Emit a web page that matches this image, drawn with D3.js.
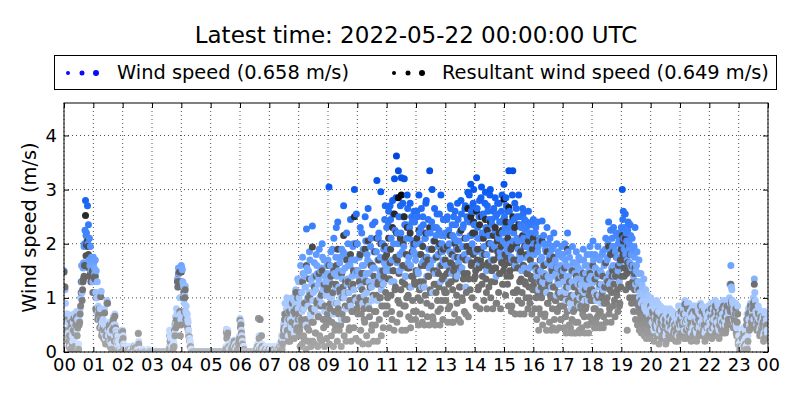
<!DOCTYPE html>
<html><head><meta charset="utf-8">
<script src="https://cdn.jsdelivr.net/npm/d3@7"></script>
<style>body{margin:0;background:#fff}svg{font-family:"DejaVu Sans",sans-serif}</style>
</head><body><svg id="c" width="800" height="400"></svg>
<script>
// ---- data: one row per hour (00..23); values on even minutes and on odd minutes ----
const windSpeedEven = [
 [1.5,1.15,0.7,0.65,0.55,0.3,0.68,0.62,0.4,0.2,0.7,0.5,0.66,0.75,0.6,0.15,0.7,1.0,1.6,1.3,1.65,2.0,2.8,2.2,2.7,2.35,2.1,1.95,1.75,1.55],
 [1.75,1.55,1.7,1.5,1.3,0.85,1.05,0.8,1.12,0.55,0.6,0.5,0.3,0.45,0.95,0.4,0.5,0.2,0.35,0.55,0.6,0.5,0.7,0.4,0.2,0.3,0.1,0.15,0.05,0.4],
 [0.4,0.15,0,0,0.05,0,0,0.1,0,0.05,0,0.12,0,0,0,0,0.35,0.05,0,0,0,0,0.03,0,0,0,0,0.02,0,0],
 [0,0,0,0.02,0,0,0,0,0,0,0,0,0,0,0,0,0,0.05,0.4,0.35,0.1,0.05,0.2,0.5,0.65,0.8,1.35,1.55,1.5,0.7],
 [1.6,1.52,1.25,0.9,1.22,0.85,0.7,0.55,0.3,0.2,0.05,0.02,0,0,0,0,0,0,0,0,0,0,0,0,0,0,0,0,0,0],
 [0,0,0,0,0,0,0,0,0,0,0,0,0,0,0,0.05,0.42,0.38,0.1,0.05,0,0.12,0.2,0.15,0.22,0.1,0.05,0.15,0.1,0.25],
 [0.62,0.55,0.3,0.05,0.1,0,0,0,0,0,0,0,0,0,0,0,0,0.1,0.15,0.62,0.1,0.05,0.3,0,0.05,0,0.1,0,0,0.05],
 [0,0.05,0,0.1,0,0,0.02,0.05,0,0.1,0.05,0.15,0.2,0.1,0.35,0.55,0.9,0.45,1.0,0.6,0.75,0.3,0.5,0.8,0.45,0.95,0.65,1.15,0.5,1.35],
 [1.3,0.9,1.6,1.1,1.75,0.8,1.4,1.2,2.27,1.0,1.5,1.85,0.7,1.35,2.33,1.1,1.65,0.95,1.8,1.45,1.25,1.9,0.85,1.55,2.0,1.15,1.7,1.4,1.05,1.6],
 [1.7,3.05,1.3,1.85,1.05,1.55,2.1,0.9,1.75,1.4,2.4,1.2,1.65,1.0,1.9,1.5,2.7,1.1,1.8,2.2,1.35,1.6,0.95,2.45,1.7,1.25,2.0,3.0,1.45,2.55],
 [2.0,1.4,1.75,2.3,1.2,1.6,1.9,1.05,2.5,1.45,1.8,2.65,1.3,1.65,2.1,0.95,1.55,1.85,2.4,1.25,3.17,1.7,2.2,1.5,2.96,1.35,2.0,1.9,2.45,1.6],
 [2.3,1.6,2.6,1.9,2.45,1.3,2.8,2.0,3.2,1.75,3.62,2.2,3.35,1.5,2.7,3.22,1.85,2.5,3.2,1.4,2.35,2.9,1.65,2.1,2.75,1.2,2.4,1.95,2.6,1.8],
 [2.0,2.6,1.5,2.9,1.8,2.3,1.2,2.5,1.7,2.1,2.75,1.4,2.2,1.9,3.35,1.6,2.4,1.1,2.05,2.65,1.75,2.3,1.45,1.95,2.55,1.3,2.15,1.85,2.45,1.65],
 [2.2,1.6,2.5,1.3,2.0,2.7,1.8,2.35,1.5,2.1,2.6,1.9,1.4,2.45,2.05,1.75,2.8,1.55,2.3,1.95,2.65,1.2,2.5,2.95,1.85,2.4,3.1,2.15,2.7,3.0],
 [2.6,1.9,3.22,2.3,1.6,2.8,2.1,3.05,1.8,2.5,2.2,2.95,1.5,2.7,2.0,2.45,3.0,1.7,2.35,2.6,1.95,2.85,1.4,2.55,2.15,2.75,1.85,2.4,2.9,2.05],
 [3.1,2.3,2.85,1.9,2.6,3.35,2.0,2.4,1.7,3.35,2.2,2.75,1.6,2.5,2.05,2.9,1.8,2.35,1.5,2.65,2.1,2.45,1.75,2.3,1.95,2.6,1.55,2.2,1.85,2.4],
 [2.45,1.8,2.2,1.5,2.4,1.95,1.3,2.1,1.7,2.42,1.6,2.0,1.25,1.85,2.3,1.4,1.75,2.1,1.55,1.9,1.2,2.2,1.65,1.45,2.0,1.3,1.8,1.55,1.1,1.95],
 [1.8,1.3,2.0,1.1,1.6,2.2,1.4,1.75,0.9,1.5,1.95,1.2,1.65,1.0,1.85,1.35,1.55,0.85,1.7,1.25,1.45,1.9,1.1,1.6,1.3,1.8,0.95,1.5,1.95,1.4],
 [1.6,2.05,1.3,1.8,1.05,1.5,1.95,1.2,1.7,0.9,1.45,1.85,1.15,1.65,2.1,1.35,1.75,2.4,1.25,2.25,1.55,1.95,2.3,1.4,1.85,2.15,1.6,2.0,1.3,2.2],
 [2.3,3.0,2.6,1.9,2.55,2.2,1.7,2.4,2.0,2.35,1.8,2.1,1.6,1.95,2.3,1.5,1.85,1.3,1.7,1.1,1.45,1.25,0.95,1.35,0.8,1.15,0.9,1.05,0.7,0.95],
 [1.0,0.7,0.9,0.5,0.8,0.6,0.95,0.45,0.75,0.55,0.85,0.4,0.7,0.6,0.5,0.8,0.35,0.65,0.55,0.75,0.45,0.6,0.7,0.4,0.55,0.65,0.5,0.6,0.3,0.7],
 [0.6,0.85,0.45,0.7,0.55,0.95,0.4,0.75,0.6,0.9,0.5,0.65,0.8,0.45,0.7,0.55,0.85,0.35,0.6,0.75,0.5,0.9,0.45,0.65,0.55,0.8,0.4,0.7,0.6,0.85],
 [0.7,0.5,0.9,0.6,0.8,0.45,0.95,0.65,0.55,0.85,0.4,0.75,0.6,0.9,0.5,0.7,0.8,0.55,0.95,0.65,0.75,1.25,1.6,1.15,0.9,0.8,0.7,0.9,0.45,0.85],
 [0.3,0.05,0.2,0,0.1,0.45,0,0.25,0.6,0.15,0.8,0.5,0.9,0.65,0.75,1.0,1.35,0.95,0.7,0.55,0.85,0.6,0.45,0.75,0.5,0.65,0.35,0.7,0.55,0.4]
];
const windSpeedOdd = [
 [1.2,0.9,0.6,0.7,0.35,0.5,0.1,0.65,0.3,0.55,0.25,0.68,0.7,0.4,0.05,0.6,0.78,1.3,1.1,1.55,1.95,2.25,2.15,2.05,2.0,1.7,1.6,1.5,1.7,1.3],
 [1.65,1.45,1.1,1.0,0.7,0.75,0.6,1.1,0.45,0.5,0.35,0.8,0.25,0.5,0.9,0.3,0.55,0.4,0.15,0.45,0.65,0.3,0.5,0.35,0.1,0.2,0.05,0.1,0,0.3],
 [0.3,0.1,0.05,0,0,0.1,0,0,0.05,0,0,0,0.1,0,0,0.05,0.2,0,0,0,0.05,0,0,0,0,0,0.05,0,0,0],
 [0,0,0,0,0,0,0,0,0,0,0,0,0,0,0,0,0,0.1,0.3,0.25,0.05,0.1,0.15,0.35,0.55,0.7,1.2,1.45,1.0,0.6],
 [1.55,1.3,1.2,1.05,0.75,0.7,0.6,0.4,0.25,0.15,0.05,0,0,0,0,0,0,0,0,0,0,0,0,0,0,0,0,0,0,0],
 [0,0,0,0,0,0,0,0,0,0,0,0,0,0,0,0.1,0.3,0.4,0.15,0,0.05,0.1,0.15,0.2,0.1,0.15,0.05,0.1,0.2,0.3],
 [0.5,0.4,0.2,0.1,0,0,0,0,0,0,0,0,0,0,0,0,0.05,0.1,0.05,0.3,0.6,0.1,0.15,0.05,0,0,0,0.05,0,0.1],
 [0,0,0.05,0,0.1,0,0,0.1,0.05,0,0.15,0.1,0.3,0.25,0.5,0.7,0.4,0.8,0.55,0.3,0.9,0.6,0.45,1.0,0.7,0.35,0.85,0.95,0.6,0.8],
 [1.0,0.6,1.3,0.75,1.45,0.9,1.2,0.5,1.55,0.85,1.1,1.7,0.65,1.25,0.95,1.4,0.8,1.15,1.6,0.7,1.35,1.0,1.5,0.9,1.75,1.2,0.75,1.3,1.05,1.45],
 [1.3,0.8,1.6,1.0,1.9,0.7,1.45,1.2,2.3,0.9,1.5,1.1,1.75,0.6,1.35,1.85,1.0,1.55,0.8,1.25,2.0,1.1,1.6,0.85,1.4,1.95,1.15,1.7,0.95,1.5],
 [1.5,1.0,1.8,1.2,2.2,0.9,1.6,1.35,2.05,1.1,1.7,0.85,1.45,1.95,1.2,2.35,1.0,1.55,1.3,1.85,0.95,2.1,1.4,1.75,1.15,2.0,1.25,1.65,2.7,1.5],
 [1.9,2.4,1.5,2.7,2.1,1.7,2.55,1.3,2.25,2.85,1.65,2.0,2.5,1.8,2.2,1.55,2.75,1.95,2.35,1.4,2.1,2.65,1.75,2.3,1.6,2.5,2.05,1.85,2.4,1.7],
 [1.8,2.5,1.45,2.2,2.0,2.65,1.65,2.35,1.2,2.1,2.8,1.75,2.45,1.55,2.2,1.9,3.0,1.7,2.3,1.45,2.15,2.55,1.8,2.25,1.6,2.9,2.0,1.7,2.45,2.15],
 [1.95,2.45,1.6,2.25,1.85,2.65,1.45,2.15,2.5,1.75,2.35,2.05,2.75,1.65,2.2,1.5,2.55,1.95,2.35,1.8,2.7,2.1,2.45,1.7,2.9,2.15,2.6,2.0,2.75,2.35],
 [2.35,1.85,2.65,2.1,2.5,1.65,2.85,2.2,2.55,1.95,2.75,2.3,1.8,2.6,2.15,2.9,2.0,2.45,1.7,2.65,2.25,2.5,1.9,2.75,2.1,2.4,1.75,2.6,2.2,2.45],
 [2.5,2.0,2.7,2.2,1.85,2.6,2.3,1.75,2.9,2.05,2.45,1.6,2.65,2.1,1.9,2.5,1.7,2.3,2.05,2.55,1.55,2.25,1.95,2.4,1.75,2.15,1.85,2.35,1.6,2.1],
 [2.0,1.6,2.3,1.4,1.85,1.15,2.05,1.5,1.75,1.3,2.15,1.45,1.9,1.1,1.65,2.0,1.35,1.8,1.2,1.6,1.95,1.4,1.7,1.05,1.55,1.85,1.25,1.6,1.4,1.75],
 [1.5,1.15,1.7,0.95,1.4,1.85,1.2,1.55,0.8,1.3,1.65,1.05,1.45,0.9,1.6,1.25,1.75,1.0,1.5,1.15,1.35,1.7,0.95,1.45,1.2,1.6,1.05,1.35,1.8,1.25],
 [1.35,1.7,1.1,1.55,0.95,1.4,1.75,1.05,1.5,1.25,1.8,1.15,1.6,1.9,1.3,1.7,2.0,1.45,1.85,1.3,2.1,1.6,1.95,1.4,2.2,1.75,1.5,2.05,1.65,1.9],
 [2.0,2.45,2.1,2.3,1.8,2.05,2.25,1.9,1.65,2.15,1.55,1.9,1.4,1.75,1.25,1.6,1.15,1.45,1.0,1.3,0.9,1.2,1.05,0.85,1.1,0.75,0.95,0.8,1.0,0.7],
 [0.8,0.55,0.85,0.4,0.65,0.75,0.5,0.9,0.35,0.6,0.7,0.45,0.8,0.5,0.65,0.3,0.7,0.55,0.45,0.8,0.6,0.4,0.75,0.5,0.65,0.35,0.7,0.55,0.85,0.45],
 [0.75,0.5,0.65,0.8,0.4,0.7,0.55,0.9,0.45,0.6,0.75,0.35,0.65,0.85,0.5,0.7,0.4,0.6,0.8,0.45,0.7,0.55,0.85,0.5,0.65,0.35,0.75,0.6,0.45,0.7],
 [0.55,0.8,0.4,0.7,0.6,0.85,0.5,0.75,0.9,0.45,0.65,0.8,0.55,0.7,0.95,0.6,0.5,0.85,0.65,0.75,1.0,0.9,1.2,0.95,0.6,0.75,0.85,0.5,0.7,0.2],
 [0.15,0.1,0,0.35,0.05,0.2,0.4,0.1,0.7,0.3,0.6,0.85,0.55,0.8,0.9,0.6,1.1,0.75,0.5,0.65,0.8,0.4,0.7,0.55,0.6,0.3,0.75,0.45,0.6,0.35]
];
const resultantSpeedEven = [
 [1.48,1.2,0.62,0.6,0.3,0.1,0.6,0.45,0.2,0.05,0.62,0.35,0.5,0.65,0.45,0.05,0.55,0.85,1.3,1.15,1.35,1.6,2.52,1.98,2.05,1.8,1.4,1.45,1.35,1.5],
 [1.5,1.38,1.4,1.0,0.75,0.65,0.8,0.6,0.5,0.35,0.45,0.4,0.2,0.3,0.9,0.3,0.45,0.1,0.2,0.5,0.55,0.45,0.66,0.35,0.1,0.2,0,0.05,0,0.38],
 [0.38,0.1,0,0,0,0,0,0.05,0,0,0,0.08,0.1,0.05,0,0,0.34,0,0,0,0,0,0,0,0,0,0,0,0,0],
 [0,0,0,0,0,0,0,0,0,0,0,0,0,0,0,0,0,0,0.3,0.2,0.05,0,0.1,0.4,0.55,0.6,1.3,1.45,1.48,0.3],
 [1.48,1.2,1.0,0.75,1.15,0.65,0.5,0.4,0.28,0.1,0,0,0,0,0,0,0,0,0,0,0,0,0,0,0,0,0,0,0,0],
 [0,0,0,0,0,0,0,0,0,0,0,0,0,0,0,0,0.36,0.32,0.05,0,0,0.08,0.15,0.1,0.2,0.05,0,0.12,0.05,0.2],
 [0.58,0.5,0.25,0,0.05,0,0,0,0,0,0,0,0,0,0,0,0,0.05,0.1,0.62,0.05,0,0.3,0,0,0,0.05,0,0,0],
 [0,0,0,0.05,0,0,0,0,0,0.05,0,0.1,0.1,0.05,0.3,0.45,0.7,0.3,0.72,0.4,0.6,0.2,0.35,0.55,0.3,0.75,0.5,1.1,0.4,1.0],
 [0.7,0.4,1.1,0.5,1.3,0.3,0.9,0.6,1.6,0.45,1.0,1.35,0.2,0.8,1.94,0.55,1.2,0.35,1.4,0.95,0.65,1.45,0.25,1.05,1.5,0.6,1.25,0.85,0.5,1.15],
 [1.2,1.6,0.8,1.4,0.55,1.1,1.5,0.4,1.25,0.9,1.9,0.7,1.15,0.5,1.45,1.0,2.15,0.6,1.3,1.7,0.85,1.1,0.45,1.8,1.2,0.75,1.5,2.5,0.95,2.0],
 [1.5,0.9,1.3,1.8,0.7,1.15,1.45,0.6,1.9,0.95,1.3,2.05,0.8,1.2,1.6,0.5,1.05,1.4,1.85,0.75,2.1,1.25,1.7,1.0,2.0,0.85,1.5,1.4,1.95,1.1],
 [1.8,1.0,2.1,1.35,1.9,0.75,2.3,1.5,2.55,1.2,2.2,1.7,2.85,0.9,2.1,2.9,1.3,2.0,2.5,0.85,1.8,2.3,1.05,1.55,2.2,0.6,1.85,1.4,2.0,1.25],
 [1.5,2.1,1.0,2.25,1.3,1.8,0.7,1.95,1.2,1.6,2.2,0.9,1.7,1.4,2.3,1.1,1.9,0.65,1.5,2.05,1.25,1.75,0.95,1.45,2.0,0.8,1.6,1.35,1.9,1.15],
 [1.7,1.1,1.95,0.8,1.5,2.15,1.3,1.8,0.55,1.6,2.0,1.4,0.9,1.9,1.55,1.2,2.25,1.0,1.75,1.45,2.1,0.7,1.95,2.65,1.35,1.85,2.5,1.65,2.2,2.4],
 [2.2,1.5,2.6,1.9,1.2,2.35,1.7,2.5,1.4,2.1,1.8,2.45,1.1,2.25,1.6,2.0,2.4,1.3,1.9,2.15,1.55,2.3,0.9,2.05,1.75,2.2,1.45,1.95,2.25,1.65],
 [2.82,1.8,2.4,1.4,2.1,2.67,1.5,1.9,0.85,2.5,1.7,2.3,1.1,2.0,1.55,2.35,1.3,1.85,0.9,2.15,1.6,1.95,1.25,1.8,1.45,2.05,1.0,1.7,1.35,1.9],
 [2.1,1.3,1.9,1.0,2.0,1.5,0.8,1.7,1.2,2.05,1.1,1.6,0.7,1.4,1.85,0.9,1.3,1.7,1.0,1.5,0.45,1.75,1.2,0.95,1.55,0.8,1.35,1.05,0.6,1.5],
 [1.4,0.85,1.55,0.65,1.2,1.9,0.95,1.3,0.45,1.05,1.5,0.75,1.2,0.55,1.4,0.9,1.1,0.4,1.25,0.8,1.0,1.45,0.65,1.15,0.85,1.35,0.5,1.05,1.45,0.95],
 [1.15,1.6,0.8,1.35,0.55,1.05,1.45,0.7,1.25,0.45,1.0,1.4,0.65,1.2,1.65,0.9,1.3,1.95,0.8,1.8,1.1,1.5,1.85,0.95,1.4,1.75,1.15,1.6,0.85,1.7],
 [1.9,2.15,2.05,1.4,2.1,1.7,0.4,1.95,1.5,1.8,1.2,1.6,1.0,1.45,1.55,0.9,1.3,0.75,1.15,0.6,0.95,0.8,0.5,0.85,0.45,0.7,0.55,0.65,0.35,0.6],
 [0.85,0.55,0.75,0.35,0.6,0.45,0.7,0.3,0.55,0.4,0.65,0.25,0.5,0.45,0.35,0.6,0.2,0.5,0.4,0.55,0.3,0.45,0.55,0.25,0.4,0.5,0.35,0.45,0.2,0.55],
 [0.5,0.75,0.35,0.55,0.4,0.88,0.25,0.6,0.45,0.8,0.35,0.5,0.7,0.3,0.55,0.4,0.75,0.2,0.45,0.6,0.35,0.85,0.3,0.5,0.4,0.7,0.25,0.55,0.45,0.75],
 [0.55,0.35,0.8,0.45,0.65,0.3,0.85,0.5,0.4,0.7,0.25,0.6,0.45,0.8,0.35,0.55,0.65,0.4,0.85,0.5,0.6,0.8,1.25,0.95,0.75,0.65,0.55,0.8,0.3,0.7],
 [0.2,0,0.1,0,0.05,0.35,0,0.15,0.5,0.05,0.7,0.4,0.85,0.55,0.65,0.9,1.25,0.85,0.6,0.45,0.75,0.5,0.35,0.65,0.4,0.55,0.25,0.6,0.45,0.3]
];
const resultantSpeedOdd = [
 [1.2,0.65,0.4,0.6,0.2,0.3,0.05,0.55,0.15,0.4,0.1,0.6,0.62,0.3,0,0.5,0.7,1.1,0.95,1.3,1.4,1.6,1.78,2.0,1.95,1.55,1.4,1.3,1.45,1.1],
 [1.4,1.35,0.8,0.75,0.6,0.7,0.45,1.02,0.3,0.4,0.25,0.72,0.15,0.4,0.9,0.2,0.5,0.3,0.05,0.4,0.6,0.2,0.45,0.3,0.05,0.1,0,0.05,0,0.2],
 [0.25,0.05,0,0,0,0.05,0,0,0,0,0,0,0.08,0,0,0,0.15,0,0,0,0,0,0,0,0,0,0,0,0,0],
 [0,0,0,0,0,0,0,0,0,0,0,0,0,0,0,0,0,0.05,0.2,0.15,0,0.05,0.1,0.3,0.45,0.5,1.2,1.3,0.75,0.5],
 [1.3,1.2,1.1,1.0,0.6,0.55,0.45,0.3,0.2,0.1,0,0,0,0,0,0,0,0,0,0,0,0,0,0,0,0,0,0,0,0],
 [0,0,0,0,0,0,0,0,0,0,0,0,0,0,0,0.05,0.25,0.35,0.1,0,0,0.05,0.1,0.15,0.05,0.1,0,0.05,0.15,0.25],
 [0.45,0.35,0.15,0.05,0,0,0,0,0,0,0,0,0,0,0,0,0,0.05,0,0.25,0.6,0.05,0.1,0,0,0,0,0,0,0.05],
 [0,0,0,0,0.05,0,0,0.05,0,0,0.1,0.05,0.2,0.15,0.4,0.6,0.3,0.65,0.4,0.2,0.75,0.5,0.3,0.9,0.55,0.25,0.7,0.8,0.45,0.6],
 [0.3,0.1,0.6,0.15,0.8,0.25,0.5,0.05,0.95,0.2,0.4,1.05,0.1,0.55,0.2,0.75,0.15,0.35,0.9,0.1,0.65,0.3,0.85,0.2,1.1,0.45,0.1,0.6,0.25,0.7],
 [0.6,0.15,0.9,0.3,1.25,0.1,0.75,0.5,1.6,0.2,0.8,0.4,1.1,0.1,0.7,1.2,0.3,0.85,0.2,0.6,1.3,0.4,0.95,0.2,0.75,1.25,0.45,1.0,0.25,0.8],
 [0.7,0.2,1.0,0.4,1.45,0.15,0.8,0.55,1.3,0.3,0.9,0.15,0.65,1.2,0.4,1.6,0.2,0.75,0.5,1.05,0.2,1.3,0.6,1.0,0.3,1.25,0.45,0.85,1.75,0.7],
 [0.85,1.35,0.45,1.65,1.05,0.6,1.5,0.4,1.15,1.75,0.55,0.95,1.45,0.7,1.15,0.4,1.6,0.85,1.25,0.4,1.0,1.55,0.65,1.2,0.45,1.4,0.95,0.75,1.3,0.6],
 [0.75,1.45,0.5,1.15,0.95,1.6,0.55,1.3,0.5,1.05,1.75,0.65,1.4,0.5,1.15,0.85,1.9,0.6,1.25,0.5,1.1,1.5,0.75,1.2,0.5,1.85,0.95,0.6,1.4,1.1],
 [0.95,1.45,0.55,1.25,0.85,1.65,0.55,1.15,1.5,0.7,1.35,1.05,1.75,0.6,1.2,0.55,1.55,0.95,1.35,0.75,1.7,1.1,1.45,0.65,1.95,1.15,1.6,1.0,1.8,1.35],
 [1.4,0.85,1.7,1.15,1.55,0.8,1.9,1.25,1.6,0.95,1.8,1.35,0.8,1.65,1.2,2.0,1.0,1.5,0.8,1.7,1.3,1.55,0.9,1.85,1.1,1.45,0.8,1.65,1.25,1.5],
 [1.6,1.05,1.75,1.25,0.85,1.65,1.4,0.75,1.95,1.1,1.55,0.7,1.7,1.15,0.95,1.55,0.7,1.35,1.1,1.6,0.7,1.3,1.0,1.45,0.8,1.2,0.9,1.4,0.7,1.15],
 [1.25,0.8,1.55,0.6,1.1,0.4,1.3,0.7,1.0,0.5,1.4,0.65,1.15,0.4,0.9,1.25,0.55,1.05,0.4,0.8,1.2,0.6,0.95,0.4,0.75,1.1,0.45,0.85,0.6,1.0],
 [0.85,0.45,1.05,0.35,0.75,1.2,0.5,0.9,0.35,0.6,1.0,0.35,0.8,0.35,0.95,0.55,1.1,0.35,0.85,0.45,0.7,1.05,0.35,0.8,0.5,0.95,0.35,0.65,1.15,0.55],
 [0.6,0.95,0.45,0.8,0.45,0.65,1.0,0.45,0.75,0.5,1.1,0.45,0.9,1.2,0.55,1.0,1.3,0.7,1.15,0.55,1.4,0.85,1.25,0.65,1.5,1.05,0.75,1.35,0.9,1.2],
 [1.4,1.8,1.55,1.7,1.15,1.45,1.65,1.25,1.0,1.55,0.9,1.3,0.75,1.15,0.6,1.0,0.5,0.85,0.4,0.7,0.35,0.65,0.5,0.3,0.55,0.25,0.4,0.35,0.5,0.25],
 [0.65,0.35,0.7,0.2,0.5,0.6,0.3,0.75,0.15,0.45,0.55,0.3,0.65,0.35,0.5,0.15,0.55,0.4,0.3,0.65,0.45,0.25,0.6,0.35,0.5,0.2,0.55,0.4,0.7,0.3],
 [0.6,0.35,0.5,0.7,0.25,0.55,0.4,0.8,0.3,0.45,0.6,0.2,0.5,0.75,0.35,0.55,0.25,0.45,0.7,0.3,0.55,0.4,0.75,0.35,0.5,0.2,0.6,0.45,0.3,0.55],
 [0.4,0.65,0.25,0.55,0.45,0.75,0.35,0.6,0.8,0.3,0.5,0.7,0.4,0.55,0.85,0.45,0.35,0.75,0.5,0.6,0.85,0.75,0.9,0.8,0.45,0.6,0.7,0.35,0.55,0.15],
 [0.1,0.05,0,0.25,0,0.1,0.3,0.05,0.6,0.2,0.5,0.75,0.45,0.7,0.8,0.5,0.95,0.65,0.4,0.55,0.7,0.3,0.6,0.45,0.5,0.2,0.65,0.35,0.5,0.25]
];
const stepMinutes = 2;
const startTime = "2022-05-21T00:00:00Z";
const endTime = "2022-05-22T00:00:00Z";
const yTicks = [0, 1, 2, 3, 4];
const yMax = 4.6;
const titleText = "Latest time: 2022-05-22 00:00:00 UTC";
const legendLabels = ["Wind speed (0.658 m/s)", "Resultant wind speed (0.649 m/s)"];
const yLabel = "Wind speed (m/s)";

// ---- layout ----
const svg = d3.select("#c");
const m = {left: 64, right: 768, top: 103, bottom: 352};
const t0 = new Date(startTime), t1 = new Date(endTime);
const x = d3.scaleUtc().domain([t0, t1]).range([m.left, m.right]);
const y = d3.scaleLinear().domain([0, yMax]).range([m.bottom, m.top]);

const windColor = d3.scaleLinear().domain([0, 1, 1.5, 2, 2.5, 3, 3.7])
  .range(["#d4e4ff", "#a4c6ff", "#78aaff", "#4f8fff", "#2c74f8", "#0a5af0", "#0044dc"]).clamp(true);
const resColor = d3.scaleLinear().domain([0, 0.5, 1, 1.5, 2, 2.5, 2.9])
  .range(["#ababab", "#939393", "#7a7a7a", "#626262", "#474747", "#2b2b2b", "#0a0a0a"]).clamp(true);

function flatten(rows, offsetMin, kind) {
  const out = [];
  rows.forEach((row, h) => row.forEach((v, k) => {
    out.push({t: new Date(t0.getTime() + (h * 60 + k * stepMinutes + offsetMin) * 60000), v, kind});
  }));
  return out;
}
// drawing order follows time: at each sample the wind point, then the resultant point
const allPts = [].concat(
  flatten(windSpeedEven, 0, "w"), flatten(windSpeedOdd, 1, "w"),
  flatten(resultantSpeedEven, 0, "r"), flatten(resultantSpeedOdd, 1, "r")
).sort((a, b) => (a.t - b.t) || (a.kind === "w" ? -1 : 1));

svg.append("clipPath").attr("id", "clip").append("rect")
  .attr("x", m.left).attr("y", m.top).attr("width", m.right - m.left).attr("height", m.bottom - m.top);

// grid
const hours = d3.utcHour.range(t0, new Date(t1.getTime() + 1));
const grid = svg.append("g").attr("stroke", "#000").attr("stroke-width", 0.7).attr("stroke-dasharray", "1,3");
grid.selectAll(".gx").data(hours).join("line")
  .attr("x1", d => x(d)).attr("x2", d => x(d)).attr("y1", m.top).attr("y2", m.bottom);
grid.selectAll(".gy").data(yTicks).join("line")
  .attr("x1", m.left).attr("x2", m.right).attr("y1", d => y(d)).attr("y2", d => y(d));

// points
svg.append("g").attr("clip-path", "url(#clip)")
  .selectAll("circle").data(allPts).join("circle")
  .attr("cx", d => x(d.t)).attr("cy", d => y(d.v)).attr("r", 3.5)
  .attr("fill", d => d.kind === "w" ? windColor(d.v) : resColor(d.v));

// axes (inward ticks on all four sides)
const fmt = d3.utcFormat("%H");
const xb = svg.append("g").attr("transform", `translate(0,${m.bottom})`)
  .call(d3.axisBottom(x).ticks(d3.utcHour.every(1)).tickFormat(fmt).tickSizeInner(-5).tickSizeOuter(0).tickPadding(6));
const xt = svg.append("g").attr("transform", `translate(0,${m.top})`)
  .call(d3.axisTop(x).ticks(d3.utcHour.every(1)).tickFormat("").tickSizeInner(-5).tickSizeOuter(0));
const yl = svg.append("g").attr("transform", `translate(${m.left},0)`)
  .call(d3.axisLeft(y).tickValues(yTicks).tickFormat(d3.format("d")).tickSizeInner(-5).tickSizeOuter(0).tickPadding(7));
const yr = svg.append("g").attr("transform", `translate(${m.right},0)`)
  .call(d3.axisRight(y).tickValues(yTicks).tickFormat("").tickSizeInner(-5).tickSizeOuter(0));
[xb, xt, yl, yr].forEach(g => {
  g.select(".domain").remove();
  g.selectAll("text").attr("font-family", "DejaVu Sans").attr("font-size", 18).attr("fill", "#000");
  g.selectAll("line").attr("stroke", "#000");
});
svg.append("rect").attr("x", m.left).attr("y", m.top).attr("width", m.right - m.left).attr("height", m.bottom - m.top)
  .attr("fill", "none").attr("stroke", "#000").attr("stroke-width", 1);

// title
svg.append("text").attr("x", (m.left + m.right) / 2).attr("y", 43).attr("text-anchor", "middle")
  .attr("font-size", 23).text(titleText);

// y label
svg.append("text").attr("transform", `translate(36,${(m.top + m.bottom) / 2}) rotate(-90)`)
  .attr("text-anchor", "middle").attr("font-size", 19.4).text(yLabel);

// legend
const lg = svg.append("g");
lg.append("rect").attr("x", 54.5).attr("y", 55.5).attr("width", 722).attr("height", 34)
  .attr("fill", "#fff").attr("stroke", "#000").attr("stroke-width", 1);
const legendItems = [
  {label: legendLabels[0], color: "#0a0aff", x0: 68, tx: 117},
  {label: legendLabels[1], color: "#000", x0: 394, tx: 442}
];
const dotSizes = [2.0, 2.5, 3.0];
legendItems.forEach(it => {
  dotSizes.forEach((r, i) => lg.append("circle").attr("cx", it.x0 + i * 14).attr("cy", 73).attr("r", r).attr("fill", it.color));
  lg.append("text").attr("x", it.tx).attr("y", 79).attr("font-size", 19.4).text(it.label);
});
</script></body></html>
